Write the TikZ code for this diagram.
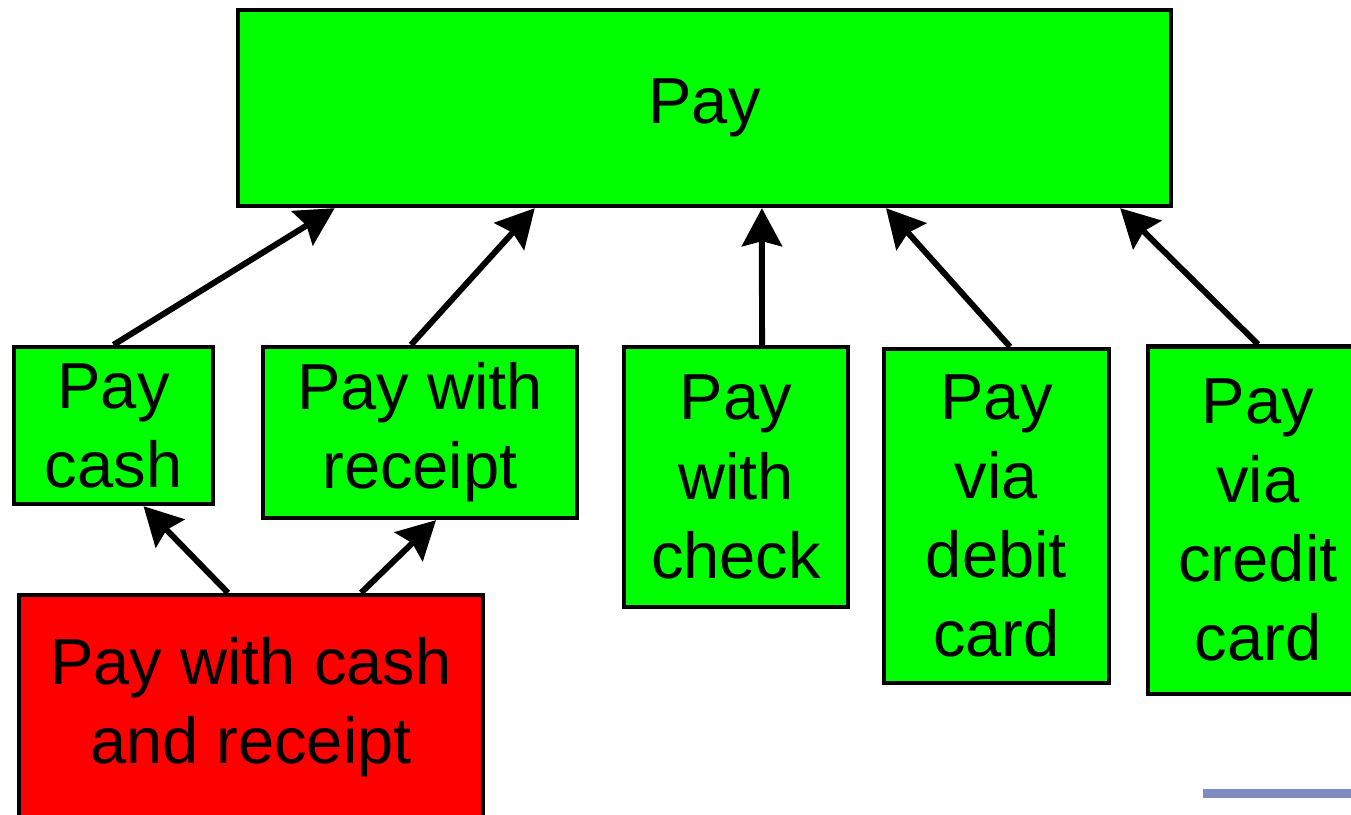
\documentclass[tikz,border=0pt]{standalone}
\usepackage{fontspec}
\usetikzlibrary{arrows.meta}
\setmainfont{Liberation Sans}
\definecolor{boxgreen}{RGB}{0,255,0}
\definecolor{boxred}{RGB}{255,0,0}
\definecolor{barblue}{RGB}{127,140,191}
\tikzset{every picture/.style={line width=1.2pt}}
\tikzset{
	usecase/.style={draw,fill=boxgreen,inner sep=0pt,align=center,
		font=\fontsize{18.5}{22.5}\selectfont},
	badcase/.style={usecase,fill=boxred},
	inherit/.style={->,line width=1.7pt}
}
\begin{document}
\begin{tikzpicture}[>={Stealth[length=0.38cm,width=0.4cm,inset=0.05cm]},x=0.01cm,y=-0.01cm]
	\clip (0,0) rectangle (1351,814);
	%Khung Pay
	\node[usecase,minimum width=9.33cm,minimum height=1.96cm] (pay) at (704.5,108) {Pay};
	%Hang 2
	\node[usecase,minimum width=1.99cm,minimum height=1.57cm] (cash) at (113.5,425.5) {Pay\\cash};
	\node[usecase,minimum width=3.14cm,minimum height=1.71cm] (receipt) at (420,432.5) {Pay with\\receipt};
	\node[usecase,minimum width=2.24cm,minimum height=2.60cm] (check) at (736,477) {Pay\\with\\check};
	\node[usecase,minimum width=2.25cm,minimum height=3.34cm] (debit) at (996.5,516) {Pay\\via\\debit\\card};
	\node[usecase,minimum width=2.20cm,minimum height=3.47cm] (credit) at (1258,520) {Pay\\via\\credit\\card};
	%Khung do
	\node[badcase,minimum width=4.64cm,minimum height=2.24cm] (both) at (251,707) {Pay with cash\\and receipt};
	%Mui ten len Pay
	\draw[inherit] (cash.north) -- ([xshift=0.99cm]pay.south west);
	\draw[inherit] ([xshift=-0.09cm]receipt.north) -- ([xshift=2.99cm]pay.south west);
	\draw[inherit] ([xshift=0.26cm]check.north) -- ([xshift=5.26cm]pay.south west);
	\draw[inherit] ([xshift=0.135cm]debit.north) -- ([xshift=6.50cm]pay.south west);
	\draw[inherit] (credit.north) -- ([xshift=8.84cm]pay.south west);
	%Mui ten tu khung do
	\draw[inherit] ([xshift=-0.23cm]both.north) -- ([xshift=0.3cm]cash.south);
	\draw[inherit] ([xshift=1.10cm]both.north) -- ([xshift=0.16cm]receipt.south);
	%Thanh xanh
	\fill[barblue] (1203,789) rectangle (1351,798);
\end{tikzpicture}
\end{document}
